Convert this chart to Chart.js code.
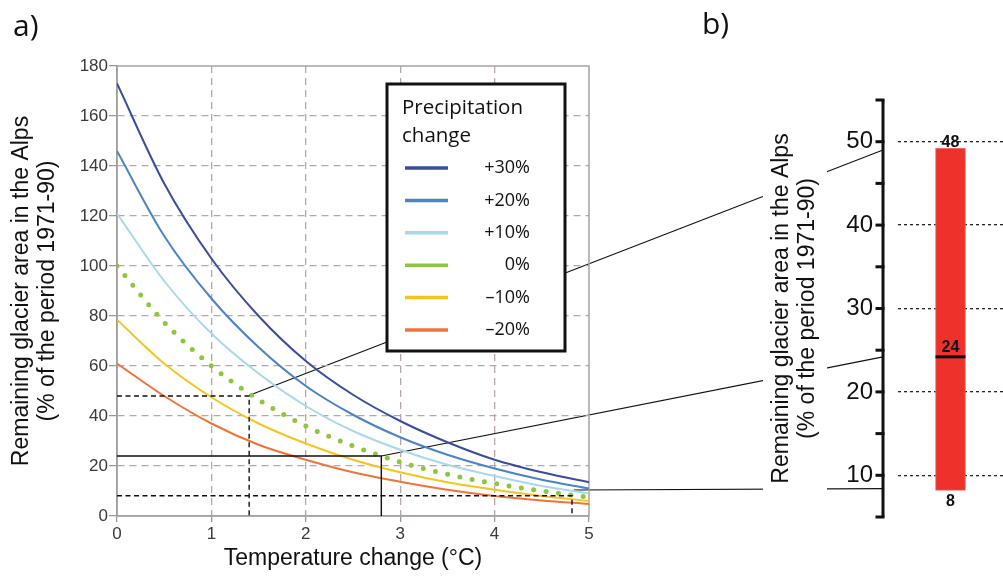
<!DOCTYPE html>
<html><head><meta charset="utf-8">
<script src="https://cdn.jsdelivr.net/npm/chart.js@4.4.1/dist/chart.umd.min.js"></script>
<style>
html,body{margin:0;padding:0;background:#fff;width:1003px;height:578px;overflow:hidden;}
#wrap{position:relative;width:1003px;height:578px;}
canvas{position:absolute;top:0;}
#conn{left:0;z-index:0;}
#ca{left:0;z-index:1;}
#cb{left:763px;z-index:1;}
.pl{position:absolute;font-family:"Open Sans",sans-serif;font-size:30px;line-height:30px;color:#111;z-index:3;}
</style></head><body>
<div id="wrap">
<canvas id="conn" width="1003" height="578" style="width:1003px;height:578px"></canvas>
<canvas id="ca" width="620" height="578" style="width:620px;height:578px"></canvas>
<canvas id="cb" width="240" height="578" style="width:240px;height:578px"></canvas>
<div class="pl" style="left:13px;top:10px">a)</div>
<div class="pl" style="left:702px;top:8px">b)</div>
</div>
<script>
// ---------- data ----------
const temps = [0, 0.5, 1, 1.5, 2, 2.5, 3, 3.5, 4, 4.5, 5];
const seriesLabels = ['+30%', '+20%', '+10%', '0%', '\u201310%', '\u201320%'];
const p30 = [173, 133, 103, 80, 62, 48.5, 38, 29.5, 22.5, 17.5, 13.5];
const p20 = [146, 112, 87, 67.5, 52, 40.5, 31.5, 24.5, 19, 14.5, 11];
const p10 = [121, 94, 73, 57, 44, 34, 26.5, 20.5, 16, 12, 9];
const p0  = [100, 77.5, 60, 46.5, 36, 28, 21.6, 16.7, 13, 10, 7.5];
const m10 = [78.5, 61, 47.5, 37, 29, 22.5, 17.5, 13.5, 10.5, 8, 6];
const m20 = [61, 48, 37, 28.5, 22.5, 17.5, 13.7, 10.5, 8, 6.2, 4.8];
const legendTitle = ['Precipitation', 'change'];
const yTitle = ['Remaining glacier area in the Alps', '(% of the period 1971-90)'];
const xTitle = 'Temperature change (\u00B0C)';
// reference markers on panel a
const markT = [1.4, 2.8, 4.82];
const markV = [48, 24, 8.1];
const markDashed = [true, false, true];
// connector lines a -> b
const connFromT = [1.41, 2.8, 4.84];
const connFromV = [48.4, 24, 10.4];
const connToV = [49, 24.2, 8.4];
// panel b range
const rangeCategory = ['Projection'];
const rangeLow = [8.2];
const rangeHigh = [49.2];
const rangeMedian = [24.2];
const rangeLabels = ['48', '24', '8'];

// ---------- styles ----------
const FONT = '"Liberation Sans", Arial, sans-serif';
const MYR = '"Open Sans", "Noto Sans", sans-serif';
Chart.defaults.font.family = FONT;
const colors = ['#3c4c9c', '#4a84c4', '#a8d9ea', '#8dc63f', '#f6c420', '#f0733a'];
const seriesValues = [p30, p20, p10, p0, m10, m20];

const datasets = seriesValues.map((vals, i) => ({
  label: seriesLabels[i],
  data: temps.map((t, j) => ({x: t, y: vals[j]})),
  borderColor: colors[i],
  backgroundColor: colors[i],
  borderWidth: i === 3 ? 5 : 2,
  borderDash: i === 3 ? [0, 12.5] : [],
  borderCapStyle: i === 3 ? 'round' : 'butt',
  pointRadius: 0,
  cubicInterpolationMode: 'monotone',
  fill: false
}));

const decorA = {
  id: 'decorA',
  beforeDatasetsDraw(chart) {
    const {ctx, chartArea: a} = chart;
    ctx.save();
    ctx.strokeStyle = '#a9a2a2';
    ctx.lineWidth = 1.5;
    ctx.strokeRect(a.left, a.top, a.right - a.left, a.bottom - a.top);
    ctx.restore();
  },
  afterDatasetsDraw(chart) {
    const {ctx} = chart;
    const sx = chart.scales.x, sy = chart.scales.y;
    ctx.save();
    ctx.strokeStyle = '#111';
    ctx.lineWidth = 1.4;
    markT.forEach((t, i) => {
      ctx.setLineDash(markDashed[i] ? [5, 3.5] : []);
      const px = sx.getPixelForValue(t), py = sy.getPixelForValue(markV[i]);
      ctx.beginPath();
      ctx.moveTo(sx.getPixelForValue(0), py);
      ctx.lineTo(px, py);
      ctx.lineTo(px, sy.getPixelForValue(0));
      ctx.stroke();
    });
    ctx.restore();
  },
  afterDraw(chart) {
    const {ctx} = chart;
    const lx = 387, ly = 84, lw = 178, lh = 267;
    ctx.save();
    ctx.setLineDash([]);
    ctx.fillStyle = '#fff';
    ctx.fillRect(lx, ly, lw, lh);
    ctx.lineWidth = 3;
    ctx.strokeStyle = '#111';
    ctx.strokeRect(lx, ly, lw, lh);
    ctx.fillStyle = '#111';
    ctx.textBaseline = 'middle';
    ctx.textAlign = 'left';
    ctx.font = '20.5px ' + MYR;
    legendTitle.forEach((t, i) => ctx.fillText(t, 402, 108 + i * 28));
    ctx.font = '18px ' + MYR;
    ctx.textAlign = 'right';
    chart.data.datasets.forEach((ds, i) => {
      const y = 168 + i * 32.4;
      ctx.strokeStyle = ds.borderColor;
      ctx.lineWidth = 3.5;
      ctx.beginPath();
      ctx.moveTo(405, y);
      ctx.lineTo(448, y);
      ctx.stroke();
      ctx.fillText(ds.label, 530, y);
    });
    ctx.restore();
  }
};

const gridCol = '#b4a8a8';
const chartA = new Chart(document.getElementById('ca'), {
  type: 'line',
  data: {datasets},
  options: {
    responsive: false,
    animation: false,
    layout: {padding: {top: 66, right: 31, bottom: 0, left: 0}},
    plugins: {legend: {display: false}, tooltip: {enabled: false}},
    scales: {
      x: {
        type: 'linear', min: 0, max: 5,
        afterFit(s) { s.height = 62; },
        ticks: {stepSize: 1, color: '#3a3a3a', font: {size: 17}, padding: 2, maxRotation: 0},
        grid: {
          color: c => (c.tick && (c.tick.value === 0 || c.tick.value === 5)) ? 'rgba(0,0,0,0)' : gridCol,
          lineWidth: 1.3, tickLength: 6, tickColor: '#9a9090', tickWidth: 1.2
        },
        border: {display: true, color: '#a79c9c', width: 1.5, dash: [7, 5]},
        title: {display: true, text: xTitle, color: '#111', font: {size: 23, lineHeight: 1.2}, padding: {top: 0, bottom: 6}}
      },
      y: {
        min: 0, max: 180,
        afterFit(s) { s.width = 117; },
        ticks: {stepSize: 20, color: '#3a3a3a', font: {size: 17}, padding: 1},
        grid: {
          color: c => (c.tick && (c.tick.value === 0 || c.tick.value === 180)) ? 'rgba(0,0,0,0)' : gridCol,
          lineWidth: 1.3, tickLength: 8, tickColor: '#9a9090', tickWidth: 1.2
        },
        border: {display: true, color: '#8f8a8a', width: 1.5, dash: [7, 5]},
        title: {display: true, text: yTitle, color: '#111', font: {size: 23, lineHeight: 1.15}, padding: {top: 8, bottom: 0}}
      }
    }
  },
  plugins: [decorA]
});

const decorB = {
  id: 'decorB',
  beforeDraw(chart) {
    const {ctx} = chart;
    ctx.save();
    ctx.fillStyle = '#fff';
    ctx.fillRect(0, 0, 64, chart.height);
    ctx.restore();
  },
  afterDraw(chart) {
    const {ctx, chartArea: a} = chart;
    const sy = chart.scales.y;
    const spineX = a.left - 15;
    ctx.save();
    ctx.strokeStyle = '#111';
    ctx.lineWidth = 3;
    ctx.beginPath();
    ctx.moveTo(spineX, sy.getPixelForValue(sy.max));
    ctx.lineTo(spineX, sy.getPixelForValue(sy.min));
    ctx.stroke();
    sy.ticks.forEach(t => {
      const y = sy.getPixelForValue(t.value);
      ctx.beginPath();
      ctx.moveTo(spineX - 7.5, y);
      ctx.lineTo(spineX + 1.5, y);
      ctx.stroke();
    });
    const bar = chart.getDatasetMeta(0).data[0];
    const half = bar.width / 2;
    const my = sy.getPixelForValue(rangeMedian[0]);
    ctx.lineWidth = 3;
    ctx.beginPath();
    ctx.moveTo(bar.x - half, my);
    ctx.lineTo(bar.x + half, my);
    ctx.stroke();
    ctx.fillStyle = '#111';
    ctx.font = 'bold 16px ' + FONT;
    ctx.textAlign = 'center';
    ctx.textBaseline = 'alphabetic';
    ctx.fillText(rangeLabels[0], bar.x, sy.getPixelForValue(rangeHigh[0]) - 1.5);
    ctx.fillText(rangeLabels[1], bar.x, my - 5);
    ctx.textBaseline = 'top';
    ctx.fillText(rangeLabels[2], bar.x, sy.getPixelForValue(rangeLow[0]) + 3);
    ctx.restore();
  }
};

const isMajor = v => v % 10 === 0 && v >= 10 && v <= 50;
const chartB = new Chart(document.getElementById('cb'), {
  type: 'bar',
  data: {
    labels: rangeCategory,
    datasets: [{
      label: 'Range',
      data: rangeLow.map((l, i) => [l, rangeHigh[i]]),
      backgroundColor: '#ee312b',
      borderColor: '#f26a66',
      borderWidth: 1,
      borderSkipped: false,
      barThickness: 30
    }]
  },
  options: {
    responsive: false,
    animation: false,
    layout: {padding: {top: 100, bottom: 61, left: 0, right: 0}},
    plugins: {legend: {display: false}, tooltip: {enabled: false}},
    scales: {
      x: {display: false},
      y: {
        min: 5, max: 55,
        afterFit(s) { s.width = 135; },
        ticks: {stepSize: 5, callback: v => isMajor(v) ? String(v) : '', color: '#111', font: {size: 24}, padding: 25},
        grid: {
          drawTicks: false,
          color: c => (c.tick && isMajor(c.tick.value)) ? '#222' : 'rgba(0,0,0,0)',
          lineWidth: 1.3
        },
        border: {display: false, dash: [3, 3]},
        title: {display: true, text: yTitle, color: '#111', font: {size: 23, lineHeight: 1.15}, padding: {top: 5, bottom: 0}}
      }
    }
  },
  plugins: [decorB]
});

// ---------- connectors between panels ----------
(function drawConnectors() {
  const c = document.getElementById('conn').getContext('2d');
  const ax = chartA.scales.x, ay = chartA.scales.y, by = chartB.scales.y;
  const offB = 763;
  const spineX = offB + chartB.chartArea.left - 15;
  c.strokeStyle = '#111';
  c.lineWidth = 1.1;
  connFromT.forEach((t, i) => {
    c.beginPath();
    c.moveTo(ax.getPixelForValue(t), ay.getPixelForValue(connFromV[i]));
    c.lineTo(spineX, by.getPixelForValue(connToV[i]));
    c.stroke();
  });
})();
</script>
</body></html>
